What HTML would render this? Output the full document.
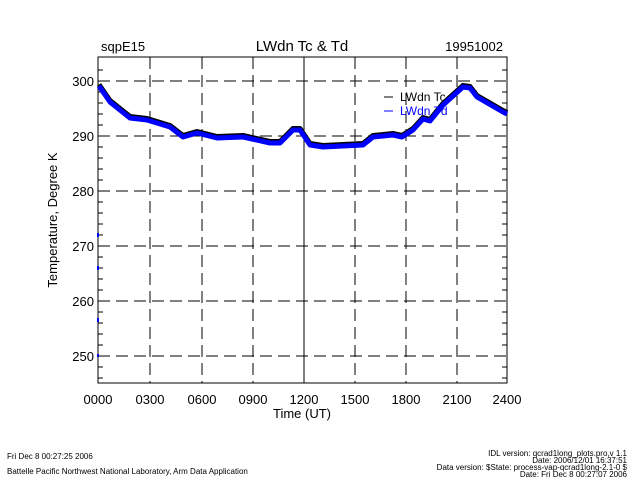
<!DOCTYPE html>
<html><head><meta charset="utf-8"><style>
body{margin:0;background:#fff;width:640px;height:480px;overflow:hidden}
text{font-family:"Liberation Sans",sans-serif}
</style></head><body>
<svg width="640" height="480" xmlns="http://www.w3.org/2000/svg">
<rect width="640" height="480" fill="#fff"/>
<g stroke="#000" stroke-width="1" stroke-dasharray="12,6">
<line x1="150" y1="57" x2="150" y2="383"/><line x1="202" y1="57" x2="202" y2="383"/>
<line x1="253" y1="57" x2="253" y2="383"/><line x1="355" y1="57" x2="355" y2="383"/>
<line x1="406" y1="57" x2="406" y2="383"/><line x1="457" y1="57" x2="457" y2="383"/>
<line x1="98" y1="81" x2="507" y2="81"/><line x1="98" y1="136" x2="507" y2="136"/>
<line x1="98" y1="191" x2="507" y2="191"/><line x1="98" y1="246" x2="507" y2="246"/>
<line x1="98" y1="301" x2="507" y2="301"/><line x1="98" y1="356" x2="507" y2="356"/>
</g>
<line x1="304" y1="57" x2="304" y2="383" stroke="#000"/>
<rect x="98" y="57" width="409" height="326" fill="none" stroke="#000"/>
<g stroke="#000">
<path d="M98 70h5M98 92h5M98 103h5M98 114h5M98 125h5M98 147h5M98 158h5M98 169h5M98 180h5M98 202h5M98 213h5M98 224h5M98 235h5M98 257h5M98 268h5M98 279h5M98 290h5M98 312h5M98 323h5M98 334h5M98 345h5M98 367h5M98 378h5"/>
<path d="M507 70h-5M507 92h-5M507 103h-5M507 114h-5M507 125h-5M507 147h-5M507 158h-5M507 169h-5M507 180h-5M507 202h-5M507 213h-5M507 224h-5M507 235h-5M507 257h-5M507 268h-5M507 279h-5M507 290h-5M507 312h-5M507 323h-5M507 334h-5M507 345h-5M507 367h-5M507 378h-5"/>
</g>
<polyline transform="translate(0,-1.5)" fill="none" stroke="#000" stroke-width="5" stroke-linejoin="round" points="99,86 110,102 130,118 147,120 170,127 183,137 197,133 217,138 243,137 270,143 280,143 293,130 300,130 310,145 323,147 363,145 373,137 393,135 402,137 413,130 423,119 430,121 443,105 463,87 470,88 477,97 503,112 507,114"/>
<polyline fill="none" stroke="#0000ff" stroke-width="5" stroke-linejoin="round" points="99,86 110,102 130,118 147,120 170,127 183,137 197,133 217,138 243,137 270,143 280,143 293,130 300,130 310,145 323,147 363,145 373,137 393,135 402,137 413,130 423,119 430,121 443,105 463,87 470,88 477,97 503,112 507,114"/>
<g stroke="#0000ff" stroke-width="2"><path d="M98 233v4M98 266v4M98 318v4M98 354v3"/></g>
<line x1="384" y1="97" x2="393" y2="97" stroke="#000"/>
<text x="400" y="101" font-size="12" fill="#000">LWdn Tc</text>
<line x1="384" y1="111" x2="393" y2="111" stroke="#0000ff"/>
<text x="400" y="115" font-size="12" fill="#0000ff">LWdn Td</text>
<text x="101" y="51" font-size="13">sqpE15</text>
<text x="302" y="51" font-size="15" text-anchor="middle">LWdn Tc &amp; Td</text>
<text x="503" y="51" font-size="13" text-anchor="end">19951002</text>
<g font-size="13" text-anchor="end">
<text x="94" y="86">300</text><text x="94" y="141">290</text><text x="94" y="196">280</text>
<text x="94" y="251">270</text><text x="94" y="306">260</text><text x="94" y="361">250</text>
</g>
<g font-size="13" text-anchor="middle">
<text x="98" y="404">0000</text><text x="150" y="404">0300</text><text x="202" y="404">0600</text>
<text x="253" y="404">0900</text><text x="304" y="404">1200</text><text x="355" y="404">1500</text>
<text x="406" y="404">1800</text><text x="457" y="404">2100</text><text x="507" y="404">2400</text>
<text x="302" y="418">Time (UT)</text>
</g>
<text x="57" y="220" font-size="13" text-anchor="middle" transform="rotate(-90 57 220)">Temperature, Degree K</text>
<g font-size="8">
<text x="7" y="459">Fri Dec  8 00:27:25 2006</text>
<text x="7" y="474">Battelle Pacific Northwest National Laboratory, Arm Data Application</text>
<g text-anchor="end">
<text x="627" y="456">IDL version: qcrad1long_plots.pro,v 1.1</text>
<text x="627" y="463">Date: 2006/12/01 16:37:51</text>
<text x="627" y="470">Data version: $State: process-vap-qcrad1long-2.1-0 $</text>
<text x="627" y="477">Date: Fri Dec  8 00:27:07 2006</text>
</g></g>
</svg>
</body></html>
